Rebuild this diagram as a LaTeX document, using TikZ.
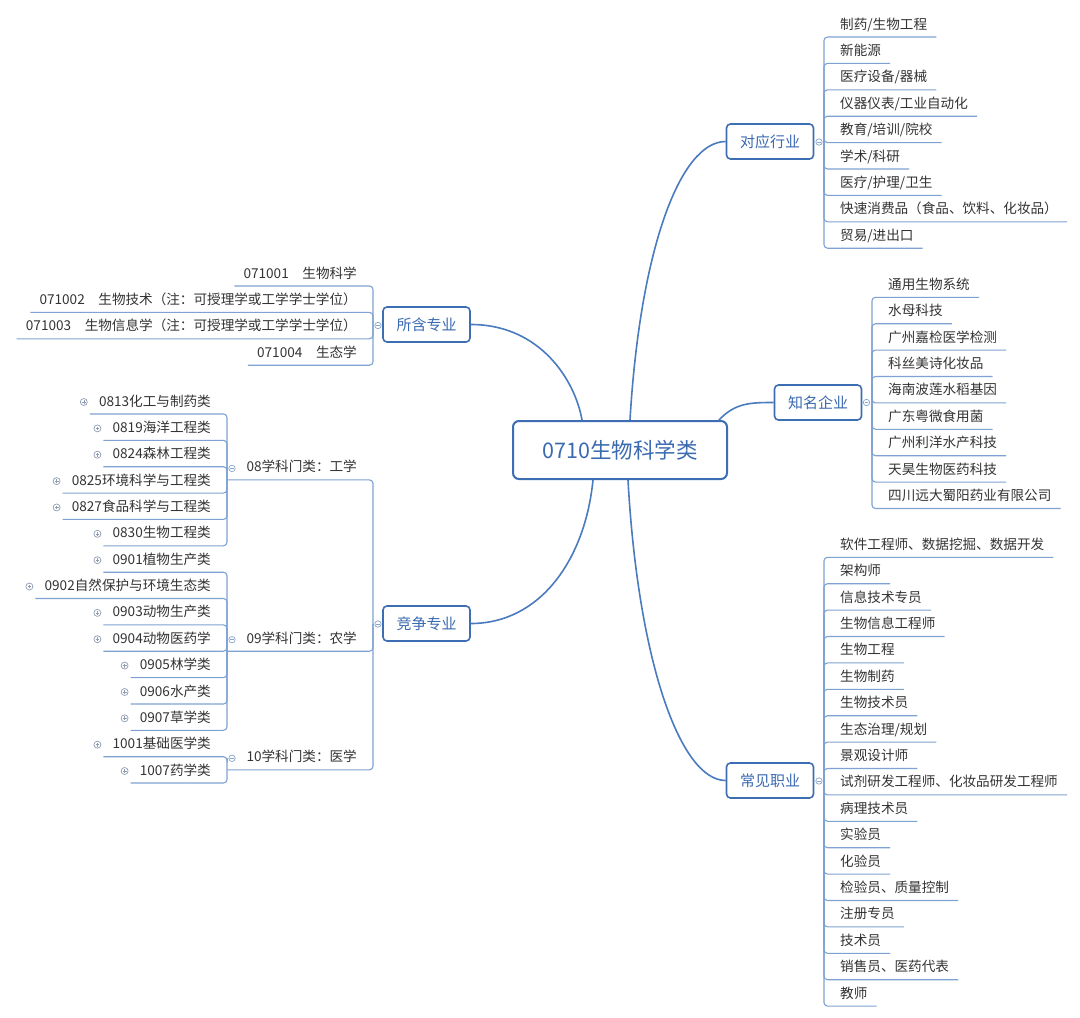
\documentclass[tikz,border=0pt]{standalone}
\usepackage{fontspec}
\setmainfont{Noto Sans CJK SC}
\definecolor{boxb}{HTML}{3D6DB3}
\definecolor{boxt}{HTML}{3A6AB0}
\definecolor{conn}{HTML}{4A7BBF}
\definecolor{chl}{HTML}{7EA2D2}
\definecolor{txt}{HTML}{333333}
\definecolor{circ}{HTML}{8AA6CB}
\definecolor{pcirc}{HTML}{8F9DB2}
\tikzset{
 itm/.style={inner sep=0pt, text=txt, font=\fontsize{13.6}{16}\selectfont},
 ritm/.style={itm, anchor=base west},
 litm/.style={itm, anchor=base east},
 cline/.style={draw=chl, line width=1.1pt, rounded corners=3.5pt},
 mline/.style={draw=conn, line width=1.6pt},
 bbox/.style={draw=boxb, fill=white, line width=1.6pt, rounded corners=4pt, minimum width=87pt, minimum height=35pt, text=boxt, font=\fontsize{15}{18}\selectfont, inner sep=0pt},
 minusc/.style={circle, draw=circ, line width=0.7pt, minimum size=6.4pt, inner sep=0pt, fill=white,
   path picture={\draw[circ, line width=0.6pt] ([xshift=1.4pt]path picture bounding box.west) -- ([xshift=-1.4pt]path picture bounding box.east);}},
 plusc/.style={circle, draw=pcirc, line width=0.7pt, minimum size=7pt, inner sep=0pt, fill=white,
   path picture={\draw[pcirc, line width=0.6pt] ([xshift=1.6pt]path picture bounding box.west) -- ([xshift=-1.6pt]path picture bounding box.east) ([yshift=1.6pt]path picture bounding box.south) -- ([yshift=-1.6pt]path picture bounding box.north);}},
}
% right item: vx, py, u, name, text
\newcommand\RI[5]{%
 \node[ritm] (#4) at (#1+16,#3-8) {#5};
 \path (#4.base east) ++(9,8) coordinate (#4-e);
 \draw[cline] (#1,#2) -- (#1,#3) -- (#4-e);
}
% left item
\newcommand\LI[5]{%
 \node[litm] (#4) at (#1-16,#3-8) {#5};
 \path (#4.base west) ++(-9,8) coordinate (#4-w);
 \draw[cline] (#1,#2) -- (#1,#3) -- (#4-w);
}
% left item with plus marker
\newcommand\LIP[5]{%
 \LI{#1}{#2}{#3}{#4}{#5}
 \path (#4-w) ++(-6,-12) node[plusc] (#4-p) {};
}
\begin{document}
\begin{tikzpicture}[x=1pt,y=-1pt]
\fill[white] (0,0) rectangle (1080,1018);
\useasboundingbox (0,0) rectangle (1080,1018);

% root and branch boxes
\node[draw=boxb, fill=white, line width=2pt, rounded corners=6pt, minimum width=214pt, minimum height=58pt, inner sep=0pt, text=boxt, font=\fontsize{21.5}{26}\selectfont] (root) at (620,450) {0710生物科学类};
\node[bbox] (hy) at (770,141.5) {对应行业};
\node[bbox] (qy) at (818,402.5) {知名企业};
\node[bbox] (zy) at (770,780.5) {常见职业};
\node[bbox] (sh) at (426.5,324.5) {所含专业};
\node[bbox] (jz) at (426.5,623.5) {竞争专业};

% main connectors
\draw[mline] ([xshift=-38pt]root.north) .. controls (575,380) and (540,324.5) .. (sh.east);
\draw[mline] ([xshift=10pt]root.north) .. controls (640,250) and (680,141.5) .. (hy.west);
\draw[mline] ([xshift=-9pt]root.north east) .. controls (735,403) and (750,402.5) .. (qy.west);
\draw[mline] ([xshift=8pt]root.south) .. controls (638,660) and (680,780.5) .. (zy.west);
\draw[mline] ([xshift=-27pt]root.south) .. controls (585,560) and (540,623.5) .. (jz.east);

% 对应行业
\RI{824}{142}{37}{a1}{制药/生物工程}
\RI{824}{142}{63.4}{a2}{新能源}
\RI{824}{142}{89.8}{a3}{医疗设备/器械}
\RI{824}{142}{116.2}{a4}{仪器仪表/工业自动化}
\RI{824}{142}{142.6}{a5}{教育/培训/院校}
\RI{824}{142}{169}{a6}{学术/科研}
\RI{824}{142}{195.4}{a7}{医疗/护理/卫生}
\RI{824}{142}{221.8}{a8}{快速消费品（食品、饮料、化妆品）}
\RI{824}{142}{248.2}{a9}{贸易/进出口}
\node[minusc] (hyc) at (819,142) {};

% 知名企业
\RI{872}{402.5}{297.3}{b1}{通用生物系统}
\RI{872}{402.5}{323.7}{b2}{水母科技}
\RI{872}{402.5}{350.1}{b3}{广州嘉检医学检测}
\RI{872}{402.5}{376.5}{b4}{科丝美诗化妆品}
\RI{872}{402.5}{402.9}{b5}{海南波莲水稻基因}
\RI{872}{402.5}{429.3}{b6}{广东粤微食用菌}
\RI{872}{402.5}{455.7}{b7}{广州利洋水产科技}
\RI{872}{402.5}{482.1}{b8}{天昊生物医药科技}
\RI{872}{402.5}{508.5}{b9}{四川远大蜀阳药业有限公司}
\node[minusc] (qyc) at (866.5,402.5) {};

% 常见职业
\RI{824}{781}{557.3}{c1}{软件工程师、数据挖掘、数据开发}
\RI{824}{781}{583.7}{c2}{架构师}
\RI{824}{781}{610.1}{c3}{信息技术专员}
\RI{824}{781}{636.5}{c4}{生物信息工程师}
\RI{824}{781}{662.9}{c5}{生物工程}
\RI{824}{781}{689.3}{c6}{生物制药}
\RI{824}{781}{715.7}{c7}{生物技术员}
\RI{824}{781}{742.1}{c8}{生态治理/规划}
\RI{824}{781}{768.5}{c9}{景观设计师}
\RI{824}{781}{794.9}{c10}{试剂研发工程师、化妆品研发工程师}
\RI{824}{781}{821.3}{c11}{病理技术员}
\RI{824}{781}{847.7}{c12}{实验员}
\RI{824}{781}{874.1}{c13}{化验员}
\RI{824}{781}{900.5}{c14}{检验员、质量控制}
\RI{824}{781}{926.9}{c15}{注册专员}
\RI{824}{781}{953.3}{c16}{技术员}
\RI{824}{781}{979.7}{c17}{销售员、医药代表}
\RI{824}{781}{1006.1}{c18}{教师}
\node[minusc] (zyc) at (819,781) {};

% 所含专业
\LI{373}{325}{286}{d1}{071001　生物科学}
\LI{373}{325}{312.4}{d2}{071002　生物技术（注：可授理学或工学学士学位）}
\LI{373}{325}{338.8}{d3}{071003　生物信息学（注：可授理学或工学学士学位）}
\LI{373}{325}{365.2}{d4}{071004　生态学}
\node[minusc] (shc) at (378,325.5) {};

% 竞争专业 sub-categories
\node[litm] (e1) at (357,471.9) {08学科门类：工学};
\node[litm] (e2) at (357,643.2) {09学科门类：农学};
\node[litm] (e3) at (357,761.8) {10学科门类：医学};
\draw[cline] (373,624) -- (373,479.9) -- (227,479.9);
\draw[cline] (373,624) -- (373,651.2) -- (227,651.2);
\draw[cline] (373,624) -- (373,769.8) -- (227,769.8);

% 08 children
\LIP{227}{468.4}{414}{f1}{0813化工与制药类}
\LIP{227}{468.4}{440.4}{f2}{0819海洋工程类}
\LIP{227}{468.4}{466.7}{f3}{0824森林工程类}
\LIP{227}{468.4}{493.1}{f4}{0825环境科学与工程类}
\LIP{227}{468.4}{519.4}{f5}{0827食品科学与工程类}
\LIP{227}{468.4}{545.8}{f6}{0830生物工程类}
% 09 children
\LIP{227}{639.7}{572.2}{g1}{0901植物生产类}
\LIP{227}{639.7}{598.5}{g2}{0902自然保护与环境生态类}
\LIP{227}{639.7}{624.9}{g3}{0903动物生产类}
\LIP{227}{639.7}{651.2}{g4}{0904动物医药学}
\LIP{227}{639.7}{677.6}{g5}{0905林学类}
\LIP{227}{639.7}{704}{g6}{0906水产类}
\LIP{227}{639.7}{730.3}{g7}{0907草学类}
% 10 children
\LIP{227}{758.3}{756.7}{h1}{1001基础医学类}
\LIP{227}{758.3}{783}{h2}{1007药学类}

\node[minusc] (e1c) at (232,468.4) {};
\node[minusc] (e2c) at (232,639.7) {};
\node[minusc] (e3c) at (232,758.3) {};
\node[minusc] (jzc) at (378,624) {};
\end{tikzpicture}
\end{document}
